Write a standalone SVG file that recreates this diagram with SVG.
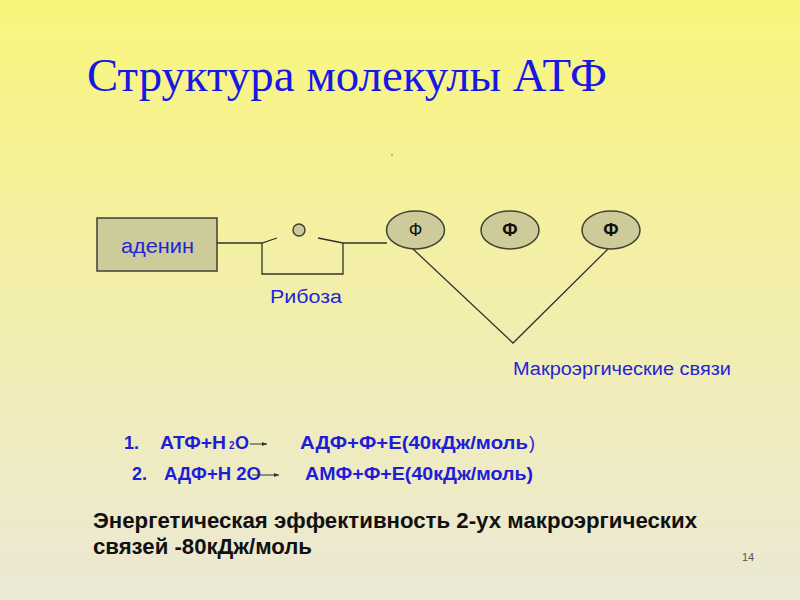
<svg xmlns="http://www.w3.org/2000/svg" width="800" height="600" viewBox="0 0 800 600">
<defs>
<linearGradient id="bg" x1="0" y1="0" x2="0" y2="1">
<stop offset="0" stop-color="#f9f67c"/>
<stop offset="0.45" stop-color="#f3efa8"/>
<stop offset="1" stop-color="#ebe8d6"/>
</linearGradient>
<marker id="arr" markerWidth="6" markerHeight="6" refX="5" refY="3" orient="auto" markerUnits="userSpaceOnUse">
<path d="M0,1 L5,3 L0,5 Z" fill="#333"/>
</marker>
<style>
.shape{fill:#cdcb9a;stroke:#404036;stroke-width:1.5}
.ln{fill:none;stroke:#33332a;stroke-width:1.3}
.lbl{font-family:"Liberation Sans",Arial,sans-serif;fill:#2424d6}
.eq{font-family:"Liberation Sans",Arial,sans-serif;font-weight:bold;fill:#1e1ed8;font-size:18px}
.phi{font-family:"Liberation Sans",Arial,sans-serif;fill:#111;font-size:18px;text-anchor:middle}
</style>
</defs>
<rect width="800" height="600" fill="url(#bg)"/>
<text x="87" y="91" font-family="'Liberation Serif','Times New Roman',serif" font-size="46" fill="#1717e6" textLength="520" lengthAdjust="spacingAndGlyphs">Структура молекулы АТФ</text>
<circle cx="392" cy="155" r="0.8" fill="#666"/>

<g id="connectors">
<path class="ln" d="M217,243 H262 L277,238"/>
<path class="ln" d="M318,238 L343,243 H387"/>
<path class="ln" d="M262,243 V274 H343 V243"/>
<path class="ln" d="M413,249 L513,343 L608,249"/>
</g>

<g id="adenine">
<rect class="shape" x="97" y="218" width="120" height="53"/>
<text class="lbl" x="121" y="253" font-size="21" textLength="73" lengthAdjust="spacingAndGlyphs">аденин</text>
</g>
<g id="ribose">
<circle class="shape" cx="299" cy="230" r="6"/>
<text class="lbl" x="270" y="303" font-size="18" textLength="72" lengthAdjust="spacingAndGlyphs">Рибоза</text>
</g>
<g id="phosphate1">
<ellipse class="shape" cx="415.5" cy="230" rx="29" ry="19"/>
<text class="phi" x="415.5" y="236">Ф</text>
</g>
<g id="phosphate2">
<ellipse class="shape" cx="510" cy="230" rx="29" ry="19"/>
<text class="phi" x="510" y="236" font-weight="bold">Ф</text>
</g>
<g id="phosphate3">
<ellipse class="shape" cx="611" cy="230" rx="29" ry="19"/>
<text class="phi" x="611" y="236" font-weight="bold">Ф</text>
</g>
<g id="macro-label">
<text class="lbl" x="513" y="375" font-size="18" textLength="218" lengthAdjust="spacingAndGlyphs">Макроэргические связи</text>
</g>

<g id="equations">
<text class="eq" x="124" y="449">1.</text>
<text class="eq" x="160" y="449" textLength="66" lengthAdjust="spacingAndGlyphs">АТФ+Н</text>
<text class="eq" x="229" y="449" style="font-size:10px">2</text>
<text class="eq" x="235" y="449">О</text>
<line x1="250" y1="444" x2="267" y2="444" stroke="#333" stroke-width="1" marker-end="url(#arr)"/>
<text class="eq" x="300" y="449" textLength="228" lengthAdjust="spacingAndGlyphs">АДФ+Ф+Е(40кДж/моль</text>
<text x="529" y="449" font-family="'Liberation Sans',Arial,sans-serif" font-size="18" fill="#1e1ed8">)</text>
<text class="eq" x="132" y="480">2.</text>
<text class="eq" x="164" y="480" textLength="97" lengthAdjust="spacingAndGlyphs">АДФ+Н 2О</text>
<line x1="252" y1="475" x2="279" y2="475" stroke="#333" stroke-width="1" marker-end="url(#arr)"/>
<text class="eq" x="305" y="480" textLength="228" lengthAdjust="spacingAndGlyphs">АМФ+Ф+Е(40кДж/моль)</text>
</g>

<g id="summary" font-family="'Liberation Sans',Arial,sans-serif" font-weight="bold" font-size="22" fill="#111">
<text x="93" y="528" textLength="604" lengthAdjust="spacingAndGlyphs">Энергетическая эффективность 2-ух макроэргических</text>
<text x="93" y="554" textLength="219" lengthAdjust="spacingAndGlyphs">связей -80кДж/моль</text>
</g>
<text x="742" y="561" font-family="'Liberation Sans',Arial,sans-serif" font-size="11" fill="#555">14</text>
</svg>
